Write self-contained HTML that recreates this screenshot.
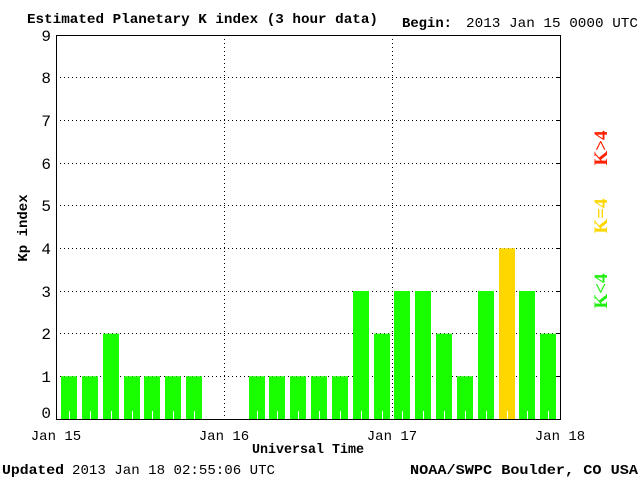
<!DOCTYPE html>
<html><head><style>
body{margin:0;background:#fff;}
</style></head><body>
<svg width="640" height="480" xmlns="http://www.w3.org/2000/svg" style="display:block">
<rect width="640" height="480" fill="#fff"/>
<g stroke="#000" stroke-dasharray="1,3" stroke-width="1">
<line x1="56" x2="560" y1="376.5" y2="376.5"/><line x1="56" x2="560" y1="333.5" y2="333.5"/><line x1="56" x2="560" y1="291.5" y2="291.5"/><line x1="56" x2="560" y1="248.5" y2="248.5"/><line x1="56" x2="560" y1="205.5" y2="205.5"/><line x1="56" x2="560" y1="163.5" y2="163.5"/><line x1="56" x2="560" y1="120.5" y2="120.5"/><line x1="56" x2="560" y1="77.5" y2="77.5"/>
<line x1="224.5" x2="224.5" y1="35" y2="419"/><line x1="392.5" x2="392.5" y1="35" y2="419"/>
</g>
<g fill="#1aff00">
<rect x="61" y="376.3" width="16" height="42.7"/>
<rect x="82" y="376.3" width="16" height="42.7"/>
<rect x="103" y="333.7" width="16" height="85.3"/>
<rect x="124" y="376.3" width="16" height="42.7"/>
<rect x="144" y="376.3" width="16" height="42.7"/>
<rect x="165" y="376.3" width="16" height="42.7"/>
<rect x="186" y="376.3" width="16" height="42.7"/>
<rect x="249" y="376.3" width="16" height="42.7"/>
<rect x="269" y="376.3" width="16" height="42.7"/>
<rect x="290" y="376.3" width="16" height="42.7"/>
<rect x="311" y="376.3" width="16" height="42.7"/>
<rect x="332" y="376.3" width="16" height="42.7"/>
<rect x="353" y="291" width="16" height="128"/>
<rect x="374" y="333.7" width="16" height="85.3"/>
<rect x="394" y="291" width="16" height="128"/>
<rect x="415" y="291" width="16" height="128"/>
<rect x="436" y="333.7" width="16" height="85.3"/>
<rect x="457" y="376.3" width="16" height="42.7"/>
<rect x="478" y="291" width="16" height="128"/>
<rect x="499" y="248.3" width="16" height="170.7" fill="#ffd700"/>
<rect x="519" y="291" width="16" height="128"/>
<rect x="540" y="333.7" width="16" height="85.3"/>
</g>
<g fill="#fff">
<rect x="69" y="411" width="1" height="8"/><rect x="90" y="411" width="1" height="8"/><rect x="111" y="411" width="1" height="8"/><rect x="132" y="411" width="1" height="8"/><rect x="152" y="411" width="1" height="8"/><rect x="173" y="411" width="1" height="8"/><rect x="194" y="411" width="1" height="8"/>
<rect x="257" y="411" width="1" height="8"/><rect x="277" y="411" width="1" height="8"/><rect x="298" y="411" width="1" height="8"/><rect x="319" y="411" width="1" height="8"/><rect x="340" y="411" width="1" height="8"/><rect x="361" y="411" width="1" height="8"/><rect x="382" y="411" width="1" height="8"/><rect x="402" y="411" width="1" height="8"/><rect x="423" y="411" width="1" height="8"/><rect x="444" y="411" width="1" height="8"/><rect x="465" y="411" width="1" height="8"/><rect x="486" y="411" width="1" height="8"/><rect x="507" y="411" width="1" height="8"/><rect x="527" y="411" width="1" height="8"/><rect x="548" y="411" width="1" height="8"/>
</g>
<rect x="56.5" y="35.5" width="504" height="384" fill="none" stroke="#000"/>
<g stroke="#000">
<line x1="556" x2="560" y1="376.5" y2="376.5"/><line x1="556" x2="560" y1="333.5" y2="333.5"/><line x1="556" x2="560" y1="291.5" y2="291.5"/><line x1="556" x2="560" y1="248.5" y2="248.5"/><line x1="556" x2="560" y1="205.5" y2="205.5"/><line x1="556" x2="560" y1="163.5" y2="163.5"/><line x1="556" x2="560" y1="120.5" y2="120.5"/><line x1="556" x2="560" y1="77.5" y2="77.5"/>
</g>
<g font-family="Liberation Mono, monospace" font-size="14" font-weight="bold">
<text x="27" y="23" textLength="351" lengthAdjust="spacingAndGlyphs">Estimated Planetary K index (3 hour data)</text>
<text x="402" y="27" textLength="50" lengthAdjust="spacingAndGlyphs">Begin:</text>
<text x="2" y="474" textLength="62" lengthAdjust="spacingAndGlyphs">Updated</text>
<text x="410" y="474" textLength="228" lengthAdjust="spacingAndGlyphs">NOAA/SWPC Boulder, CO USA</text>
<text x="252" y="453" textLength="112" lengthAdjust="spacingAndGlyphs">Universal Time</text>
<text transform="translate(27,228) rotate(-90)" text-anchor="middle">Kp index</text>
</g>
<g font-family="Liberation Mono, monospace" font-size="14">
<text x="466" y="27" textLength="172" lengthAdjust="spacingAndGlyphs">2013 Jan 15 0000 UTC</text>
<text x="72" y="474" textLength="203" lengthAdjust="spacingAndGlyphs">2013 Jan 18 02:55:06 UTC</text>
<g text-anchor="middle">
<text x="56" y="440">Jan 15</text><text x="224" y="440">Jan 16</text><text x="392" y="440">Jan 17</text><text x="560" y="440">Jan 18</text>
</g>
<g text-anchor="end" font-size="16">
<text x="51" y="418">0</text><text x="51" y="382">1</text><text x="51" y="339">2</text><text x="51" y="297">3</text><text x="51" y="254">4</text><text x="51" y="211">5</text><text x="51" y="169">6</text><text x="51" y="126">7</text><text x="51" y="83">8</text><text x="51" y="41">9</text>
</g>
</g>
<g font-family="Liberation Serif, serif" font-size="19" text-anchor="middle" font-weight="bold">
<text transform="translate(607,148) rotate(-90)" fill="#ff2000">K&gt;4</text>
<text transform="translate(607,216) rotate(-90)" fill="#ffd700">K=4</text>
<text transform="translate(607,291) rotate(-90)" fill="#22ee11">K&lt;4</text>
</g>
</svg>
</body></html>
